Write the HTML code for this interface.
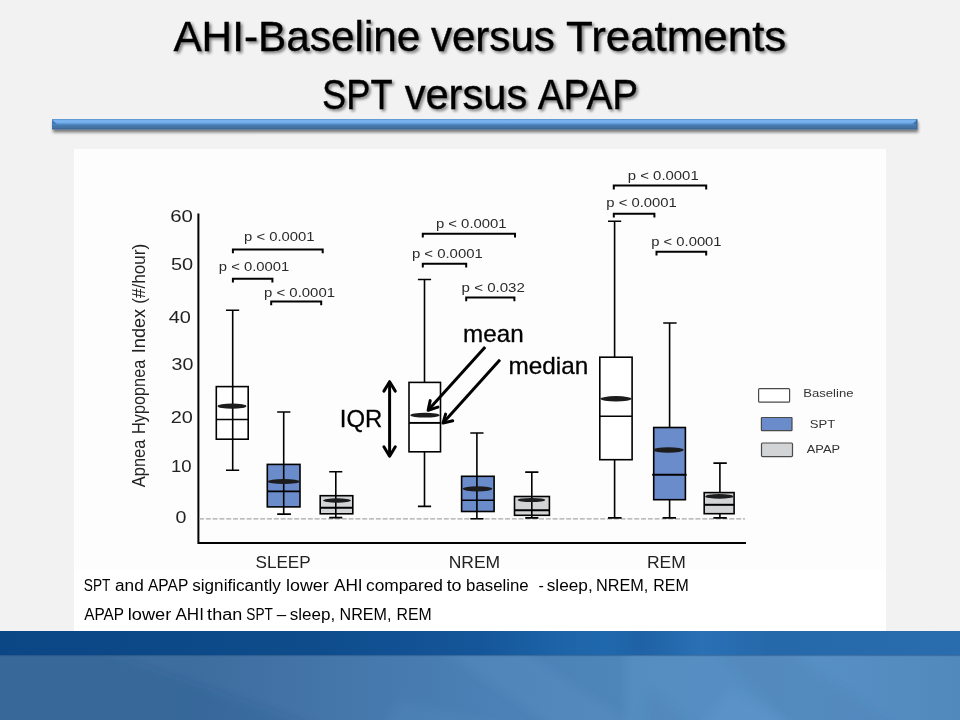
<!DOCTYPE html>
<html>
<head>
<meta charset="utf-8">
<title>AHI-Baseline versus Treatments</title>
<style>
html,body{margin:0;padding:0;}
body{width:960px;height:720px;overflow:hidden;background:#f2f2f2;font-family:"Liberation Sans",sans-serif;position:relative;}
#panel{position:absolute;left:74px;top:149px;width:812px;height:482px;background:#ffffff;}
#chartbg{position:absolute;left:74px;top:149px;width:812px;height:420px;background:#fdfdfd;}
#band{position:absolute;left:0;top:631px;width:960px;height:89px;background:linear-gradient(90deg,#3e6e9f 0%,#3d6d9f 20%,#4475a8 33%,#4a80b5 50%,#4e86ba 64.5%,#558dc1 66%,#5790c5 85%,#5289bd 100%);overflow:hidden;}
#band2{position:absolute;left:0;top:631px;width:960px;height:24px;background:linear-gradient(90deg,#0b4685 0%,#0e4c8c 33%,#15569a 50%,#1d63a7 58%,#2068ad 63%,#1f62a5 67%,#2a70b5 73%,#2669ab 80%,#2a6dae 100%);box-shadow:0 1px 1px rgba(20,60,110,0.35);}
svg{position:absolute;left:0;top:0;will-change:transform;opacity:.999;}
</style>
</head>
<body>
<div id="panel"></div>
<div id="chartbg"></div>
<div id="band"><svg width="960" height="89" viewBox="0 631 960 89" style="opacity:1;will-change:auto">
<defs><filter id="bb" x="-10%" y="-50%" width="120%" height="200%"><feGaussianBlur stdDeviation="5"/></filter></defs>
<g filter="url(#bb)">
<polygon points="-20,650 100,650 330,730 -20,730" fill="#1c3f6c" opacity="0.10"/>
<polygon points="440,650 520,650 640,730 560,730" fill="#7fb4e6" opacity="0.10"/>
<polygon points="400,700 520,730 380,730" fill="#7fb4e6" opacity="0.07"/>
<polygon points="715,650 790,650 900,730 790,730" fill="#25558a" opacity="0.10"/>
<polygon points="650,690 700,730 640,730" fill="#25558a" opacity="0.10"/>
<polygon points="730,690 800,730 700,730" fill="#8cc0f0" opacity="0.09"/>
</g>
</svg></div>
<div id="band2"></div>
<svg id="main" width="960" height="720" viewBox="0 0 960 720" font-family="Liberation Sans, sans-serif">
<defs>
<filter id="ts" x="-5%" y="-20%" width="110%" height="150%">
<feGaussianBlur in="SourceAlpha" stdDeviation="1.6"/>
<feOffset dx="1.8" dy="2.2" result="b"/>
<feComponentTransfer><feFuncA type="linear" slope="0.5"/></feComponentTransfer>
<feMerge><feMergeNode/><feMergeNode in="SourceGraphic"/></feMerge>
</filter>
<linearGradient id="rg" x1="0" y1="0" x2="0" y2="1">
<stop offset="0" stop-color="#4d80b4"/>
<stop offset="0.07" stop-color="#6ca6e4"/>
<stop offset="0.2" stop-color="#7cb6f3"/>
<stop offset="0.36" stop-color="#6fa9e8"/>
<stop offset="0.48" stop-color="#5a94d0"/>
<stop offset="0.58" stop-color="#487bb1"/>
<stop offset="0.82" stop-color="#4273a4"/>
<stop offset="0.93" stop-color="#3b6998"/>
<stop offset="1" stop-color="#37628c"/>
</linearGradient>
<filter id="rs" x="-1%" y="-50%" width="102%" height="250%">
<feGaussianBlur in="SourceAlpha" stdDeviation="1.5"/>
<feOffset dx="1" dy="2.6" result="b"/>
<feComponentTransfer><feFuncA type="linear" slope="0.5"/></feComponentTransfer>
<feMerge><feMergeNode/><feMergeNode in="SourceGraphic"/></feMerge>
</filter>
</defs>

<!-- RULE -->
<g id="rule">
<rect x="52" y="119" width="865.3" height="10.4" fill="url(#rg)" filter="url(#rs)"/>
<path d="M52 119.4 L57 124.2 L52 124.6 Z" fill="#4079bd"/>
<path d="M917.3 119.4 L912.4 124.2 L917.3 124.6 Z" fill="#3f73aa"/>
<rect x="916.3" y="119.4" width="1" height="10" fill="#3a689a"/>
</g>
<!-- TITLE -->
<!--B:title-->
<g id="title" filter="url(#ts)" fill="#000" stroke="#000" stroke-width="0.35">
<text id="t1a" x="173.40" y="51.25" font-size="42.5" textLength="247.01" lengthAdjust="spacingAndGlyphs">AHI-Baseline</text>
<text id="t1b" x="430.88" y="51.25" font-size="42.5" textLength="123.98" lengthAdjust="spacingAndGlyphs">versus</text>
<text id="t1c" x="566.01" y="51.25" font-size="42.5" textLength="220.31" lengthAdjust="spacingAndGlyphs">Treatments</text>
<text id="t2a" x="322.12" y="109.25" font-size="42.5" textLength="70.37" lengthAdjust="spacingAndGlyphs">SPT</text>
<text id="t2b" x="404.63" y="109.25" font-size="42.5" textLength="122.71" lengthAdjust="spacingAndGlyphs">versus</text>
<text id="t2c" x="537.68" y="109.25" font-size="42.5" textLength="100.39" lengthAdjust="spacingAndGlyphs">APAP</text>
</g>
<!--E:title-->

<!-- AXES -->
<g id="axes" stroke="#000" stroke-width="2" fill="none">
<path d="M198.4 213.5 V543 H746"/>
</g>
<line x1="199" y1="518.8" x2="745" y2="518.8" stroke="#a8a8a8" stroke-width="1.2" stroke-dasharray="5 1.8"/>

<!-- Y TICK LABELS -->
<!--B:ylab-->
<g id="ylab" fill="#222">
<text id="y60" x="170.25" y="222.00" font-size="16.6" textLength="22.71" lengthAdjust="spacingAndGlyphs">60</text>
<text id="y50" x="170.96" y="270.25" font-size="16.6" textLength="22.24" lengthAdjust="spacingAndGlyphs">50</text>
<text id="y40" x="168.75" y="323.25" font-size="16.6" textLength="22.20" lengthAdjust="spacingAndGlyphs">40</text>
<text id="y30" x="171.58" y="370.25" font-size="16.6" textLength="21.86" lengthAdjust="spacingAndGlyphs">30</text>
<text id="y20" x="170.82" y="423.25" font-size="16.6" textLength="22.14" lengthAdjust="spacingAndGlyphs">20</text>
<text id="y10" x="171.02" y="471.75" font-size="16.6" textLength="20.65" lengthAdjust="spacingAndGlyphs">10</text>
<text id="y0" x="175.47" y="522.50" font-size="16.6" textLength="10.93" lengthAdjust="spacingAndGlyphs">0</text>
</g>
<!--E:ylab-->

<!-- Y TITLE -->
<!--B:ytitle-->
<g id="ytitle" fill="#222" transform="translate(144.5 0) rotate(-90) scale(1 1.13)">
<text id="yt1" x="-487.18" y="0.00" font-size="16.6" textLength="47.50" lengthAdjust="spacingAndGlyphs">Apnea</text>
<text id="yt2" x="-434.06" y="0.00" font-size="16.6" textLength="74.36" lengthAdjust="spacingAndGlyphs">Hypopnea</text>
<text id="yt3" x="-353.18" y="0.00" font-size="16.6" textLength="44.28" lengthAdjust="spacingAndGlyphs">Index</text>
<text id="yt4" x="-303.82" y="0.00" font-size="16.6" textLength="59.89" lengthAdjust="spacingAndGlyphs">(#/hour)</text>
</g>
<!--E:ytitle-->

<!-- X LABELS -->
<!--B:xlab-->
<g id="xlab" fill="#222">
<text id="xs" x="255.53" y="568.30" font-size="16.4" textLength="55.15" lengthAdjust="spacingAndGlyphs">SLEEP</text>
<text id="xn" x="448.65" y="568.10" font-size="16.4" textLength="51.50" lengthAdjust="spacingAndGlyphs">NREM</text>
<text id="xr" x="646.95" y="568.10" font-size="16.4" textLength="38.84" lengthAdjust="spacingAndGlyphs">REM</text>
</g>
<!--E:xlab-->

<!-- BOXPLOTS -->
<g id="boxes" stroke="#000" stroke-width="1.6" fill="none">
<!-- SLEEP baseline -->
<path d="M232.7 310.3 V470.3 M226 310.3 H239.2 M226 470.3 H239.2"/>
<rect x="216.3" y="386.6" width="31.9" height="52.6" fill="#ffffff"/>
<path d="M232.7 386.6 V439.2 M216.3 419.5 H248.2"/>
<!-- SLEEP SPT -->
<path d="M283.7 412 V514.1 M277.2 412 H290.4 M277.2 514.1 H290.9"/>
<rect x="267.3" y="464.4" width="32.7" height="42.5" fill="#6a8ccb"/>
<path d="M283.7 464.4 V506.9 M267.3 491.4 H300"/>
<!-- SLEEP APAP -->
<path d="M335.8 471.7 V517.6 M329.2 471.7 H342.3 M329.2 517.6 H342.3"/>
<rect x="320.2" y="495.7" width="32.6" height="18.1" fill="#d3d4d6"/>
<path d="M335.8 495.7 V513.8"/><path d="M320.2 507.7 H352.8" stroke-width="2"/>

<!-- NREM baseline -->
<path d="M424.5 279.5 V506.4 M417.9 279.5 H431.1 M417.9 506.4 H431.1"/>
<rect x="409" y="382.4" width="31.5" height="69.4" fill="#ffffff"/>
<path d="M409 422.9 H440.5" stroke-width="1.9"/>
<!-- NREM SPT -->
<path d="M476.9 433 V518.8 M470.3 433 H483.5 M470.3 518.8 H483.5"/>
<rect x="461.6" y="476.3" width="32.5" height="35.2" fill="#6a8ccb"/>
<path d="M476.9 476.3 V511.5 M461.6 500.3 H494.1"/>
<!-- NREM APAP -->
<path d="M531.8 472.1 V517.9 M525.2 472.1 H538.4 M525.2 517.9 H538.4"/>
<rect x="514.5" y="496.5" width="34.9" height="18.8" fill="#d3d4d6"/>
<path d="M531.8 496.5 V515.3"/><path d="M514.5 510.2 H549.4" stroke-width="2"/>

<!-- REM baseline -->
<path d="M614.6 221.3 V517.9 M608 221.3 H621.2 M608 517.9 H621.6"/>
<rect x="599.8" y="357.2" width="32.3" height="102.5" fill="#ffffff"/>
<path d="M599.8 416.3 H632.1"/>
<!-- REM SPT -->
<path d="M669.6 323 V517.9 M663.2 323 H676.6 M662.6 517.9 H676"/>
<rect x="653.7" y="427.5" width="31.7" height="72.2" fill="#6a8ccb"/>
<path d="M652.2 474.8 H686.6" stroke-width="2"/>
<!-- REM APAP -->
<path d="M719.9 463.1 V517.9 M713.4 463.1 H726.8 M713.4 517.9 H726.8"/>
<rect x="704.2" y="492.6" width="29.9" height="21.1" fill="#d3d4d6"/>
<path d="M704.2 504.8 H734.1" stroke-width="2"/>
</g>
<!-- means -->
<g id="means" fill="#1c1c1c">
<ellipse cx="232" cy="406.2" rx="14.4" ry="2.6"/>
<ellipse cx="283.7" cy="481.5" rx="16" ry="2.6"/>
<ellipse cx="337" cy="500.5" rx="13.8" ry="2.2"/>
<ellipse cx="425" cy="415.2" rx="14.7" ry="2.4"/>
<ellipse cx="477.5" cy="488.8" rx="14.8" ry="2.6"/>
<ellipse cx="531.4" cy="500" rx="13.8" ry="2.1"/>
<ellipse cx="616" cy="398.8" rx="15.6" ry="2.7"/>
<ellipse cx="668.3" cy="450" rx="15.3" ry="2.7"/>
<ellipse cx="719.3" cy="496.4" rx="14.1" ry="2.3"/>
</g>

<!-- P BRACKETS -->
<g id="brk" stroke="#000" stroke-width="2" fill="none">
<path d="M232.9 253.2 V249.4 H322.7 V253.2"/>
<path d="M232.9 282.4 V278.7 H272.4 V282.4"/>
<path d="M271.2 305.3 V301.6 H321.2 V305.3"/>
<path d="M422.8 237.6 V233.8 H515 V237.6"/>
<path d="M422.8 267.4 V263.8 H466.2 V267.4"/>
<path d="M466.2 301.2 V297.5 H514.4 V301.2"/>
<path d="M613.8 189.4 V185.6 H706.2 V189.4"/>
<path d="M613.8 217.5 V213.8 H654.4 V217.5"/>
<path d="M656.5 255.6 V251.8 H706.2 V255.6"/>
</g>
<!--B:ptxt-->
<g id="ptxt" fill="#2a2a2a">
<text id="pS1" x="244.11" y="240.90" font-size="13.5" textLength="70.47" lengthAdjust="spacingAndGlyphs">p &lt; 0.0001</text>
<text id="pS2" x="218.81" y="271.25" font-size="13.5" textLength="70.47" lengthAdjust="spacingAndGlyphs">p &lt; 0.0001</text>
<text id="pS3" x="264.10" y="297.00" font-size="13.5" textLength="70.87" lengthAdjust="spacingAndGlyphs">p &lt; 0.0001</text>
<text id="pN1" x="435.91" y="227.75" font-size="13.5" textLength="70.67" lengthAdjust="spacingAndGlyphs">p &lt; 0.0001</text>
<text id="pN2" x="411.90" y="257.75" font-size="13.5" textLength="70.87" lengthAdjust="spacingAndGlyphs">p &lt; 0.0001</text>
<text id="pN3" x="461.59" y="292.40" font-size="13.5" textLength="63.32" lengthAdjust="spacingAndGlyphs">p &lt; 0.032</text>
<text id="pR1" x="627.86" y="180.00" font-size="13.5" textLength="70.82" lengthAdjust="spacingAndGlyphs">p &lt; 0.0001</text>
<text id="pR2" x="606.31" y="206.80" font-size="13.5" textLength="70.47" lengthAdjust="spacingAndGlyphs">p &lt; 0.0001</text>
<text id="pR3" x="651.31" y="245.60" font-size="13.5" textLength="70.26" lengthAdjust="spacingAndGlyphs">p &lt; 0.0001</text>
</g>
<!--E:ptxt-->

<!-- LEGEND -->
<g id="legend" stroke="#4a4a4a" stroke-width="1.2">
<rect x="758.6" y="388.6" width="31" height="13.6" rx="1" fill="#ffffff"/>
<rect x="761.4" y="417.5" width="30.6" height="13.2" rx="0.6" fill="#6a8ccb"/>
<rect x="761.5" y="443" width="31" height="13.6" rx="1" fill="#d3d4d6"/>
</g>
<!--B:legtxt-->
<g id="legtxt" fill="#333">
<text id="lgB" x="803.25" y="396.70" font-size="11.5" textLength="50.19" lengthAdjust="spacingAndGlyphs">Baseline</text>
<text id="lgS" x="809.72" y="427.80" font-size="11.5" textLength="25.50" lengthAdjust="spacingAndGlyphs">SPT</text>
<text id="lgA" x="806.78" y="453.30" font-size="11.5" textLength="33.32" lengthAdjust="spacingAndGlyphs">APAP</text>
</g>
<!--E:legtxt-->

<!-- ANNOTATIONS -->
<!--B:annot-->
<g id="annot" fill="#000" stroke="#000" stroke-width="0.3">
<text id="aI" x="339.86" y="426.90" font-size="24.0" textLength="42.51" lengthAdjust="spacingAndGlyphs">IQR</text>
<text id="aM" x="463.14" y="341.60" font-size="24.0" textLength="60.58" lengthAdjust="spacingAndGlyphs">mean</text>
<text id="aD" x="508.53" y="373.60" font-size="24.0" textLength="79.70" lengthAdjust="spacingAndGlyphs">median</text>
</g>
<!--E:annot-->
<g id="arrows" stroke="#000" stroke-width="3" fill="none">
<path d="M389.6 382 V456"/>
<path d="M485.2 347 L428.1 410.2"/>
<path d="M500 359.8 L443 423.1"/>
<g stroke-linejoin="round" stroke-linecap="round">
<path d="M383.9 391.1 L389.6 381.7 L395.3 391.1"/>
<path d="M383.9 446.8 L389.6 456.2 L395.3 446.8"/>
<path d="M430.2 400.6 L428.1 410.2 L437.9 407.1"/>
<path d="M445.6 414.1 L443 423.1 L452.7 420.75"/>
</g>
</g>

<!-- CAPTION -->
<!--B:caption-->
<g id="caption" fill="#000">
<text id="c1a" x="83.79" y="590.50" font-size="16.0" textLength="26.56" lengthAdjust="spacingAndGlyphs">SPT</text>
<text id="c1b" x="115.00" y="590.50" font-size="16.0" textLength="28.71" lengthAdjust="spacingAndGlyphs">and</text>
<text id="c1c" x="148.03" y="590.50" font-size="16.0" textLength="40.28" lengthAdjust="spacingAndGlyphs">APAP</text>
<text id="c1d" x="192.23" y="590.50" font-size="16.0" textLength="88.55" lengthAdjust="spacingAndGlyphs">significantly</text>
<text id="c1e" x="286.00" y="590.50" font-size="16.0" textLength="42.73" lengthAdjust="spacingAndGlyphs">lower</text>
<text id="c1f" x="334.01" y="590.50" font-size="16.0" textLength="28.65" lengthAdjust="spacingAndGlyphs">AHI</text>
<text id="c1g" x="366.00" y="590.50" font-size="16.0" textLength="76.97" lengthAdjust="spacingAndGlyphs">compared</text>
<text id="c1h" x="446.65" y="590.50" font-size="16.0" textLength="14.91" lengthAdjust="spacingAndGlyphs">to</text>
<text id="c1i" x="466.06" y="590.50" font-size="16.0" textLength="62.66" lengthAdjust="spacingAndGlyphs">baseline</text>
<text id="c1j" x="538.54" y="590.50" font-size="16.0" textLength="5.35" lengthAdjust="spacingAndGlyphs">-</text>
<text id="c1k" x="546.73" y="590.50" font-size="16.0" textLength="45.95" lengthAdjust="spacingAndGlyphs">sleep,</text>
<text id="c1l" x="596.01" y="590.50" font-size="16.0" textLength="52.39" lengthAdjust="spacingAndGlyphs">NREM,</text>
<text id="c1m" x="653.28" y="590.50" font-size="16.0" textLength="35.41" lengthAdjust="spacingAndGlyphs">REM</text>
<text id="c2a" x="84.28" y="619.70" font-size="16.0" textLength="39.77" lengthAdjust="spacingAndGlyphs">APAP</text>
<text id="c2b" x="127.73" y="619.70" font-size="16.0" textLength="43.50" lengthAdjust="spacingAndGlyphs">lower</text>
<text id="c2c" x="175.51" y="619.70" font-size="16.0" textLength="28.39" lengthAdjust="spacingAndGlyphs">AHI</text>
<text id="c2d" x="207.14" y="619.70" font-size="16.0" textLength="35.09" lengthAdjust="spacingAndGlyphs">than</text>
<text id="c2e" x="246.29" y="619.70" font-size="16.0" textLength="26.56" lengthAdjust="spacingAndGlyphs">SPT</text>
<text id="c2f" x="276.87" y="619.70" font-size="16.0" textLength="9.43" lengthAdjust="spacingAndGlyphs">–</text>
<text id="c2g" x="289.74" y="619.70" font-size="16.0" textLength="45.42" lengthAdjust="spacingAndGlyphs">sleep,</text>
<text id="c2h" x="339.52" y="619.70" font-size="16.0" textLength="51.86" lengthAdjust="spacingAndGlyphs">NREM,</text>
<text id="c2i" x="396.54" y="619.70" font-size="16.0" textLength="35.14" lengthAdjust="spacingAndGlyphs">REM</text>
</g>
<!--E:caption-->
</svg>
</body>
</html>
